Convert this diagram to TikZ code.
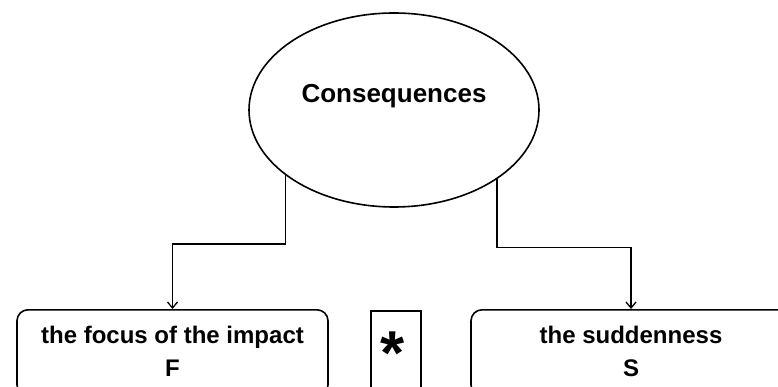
\documentclass[tikz,border=0pt]{standalone}
\usepackage{fontspec}
\setmainfont{Liberation Sans}
\usetikzlibrary{shapes.geometric,arrows.meta}
\newcommand{\zline}[2]{\makebox[0pt]{\raisebox{#1}[0pt][0pt]{#2}}}
\begin{document}
\begin{tikzpicture}[x=1pt,y=-1pt,
  line width=1.6pt,
  arr/.style={-{Straight Barb[length=6pt,width=10pt,line width=1.3pt]}},
  rbox/.style={draw,rounded corners=11pt,inner sep=0pt,anchor=north,
    font=\bfseries\fontsize{24}{28}\selectfont},
  sbox/.style={draw,inner sep=0pt,anchor=north,font=\bfseries\fontsize{62}{62}\selectfont}]
\useasboundingbox (0,0) rectangle (778,387);
\clip (0,0) rectangle (778,387);
\fill[white] (0,0) rectangle (778,387);
\node[ellipse,draw,minimum width=290pt,minimum height=194pt,inner sep=0pt,
  font=\bfseries\fontsize{26}{30}\selectfont] (ell) at (394,110)
  {\zline{7pt}{Consequences}};
\node[rbox,minimum width=311pt,minimum height=86pt] (f) at (172.5,309)
  {\zline{9pt}{the focus of the impact}\zline{-24pt}{F}};
\node[rbox,minimum width=320pt,minimum height=86pt] (s) at (631,309)
  {\zline{9pt}{the suddenness}\zline{-24pt}{S}};
\node[sbox,minimum width=50pt,minimum height=90pt] (st) at (396,310)
  {\hspace*{-6pt}\zline{-19pt}{*}};
\draw[arr] (ell.211.5) -- ++(0,68.5) -| (f.north);
\draw[arr] (ell.326) -- ++(0,68) -| (s.north);
\end{tikzpicture}
\end{document}
